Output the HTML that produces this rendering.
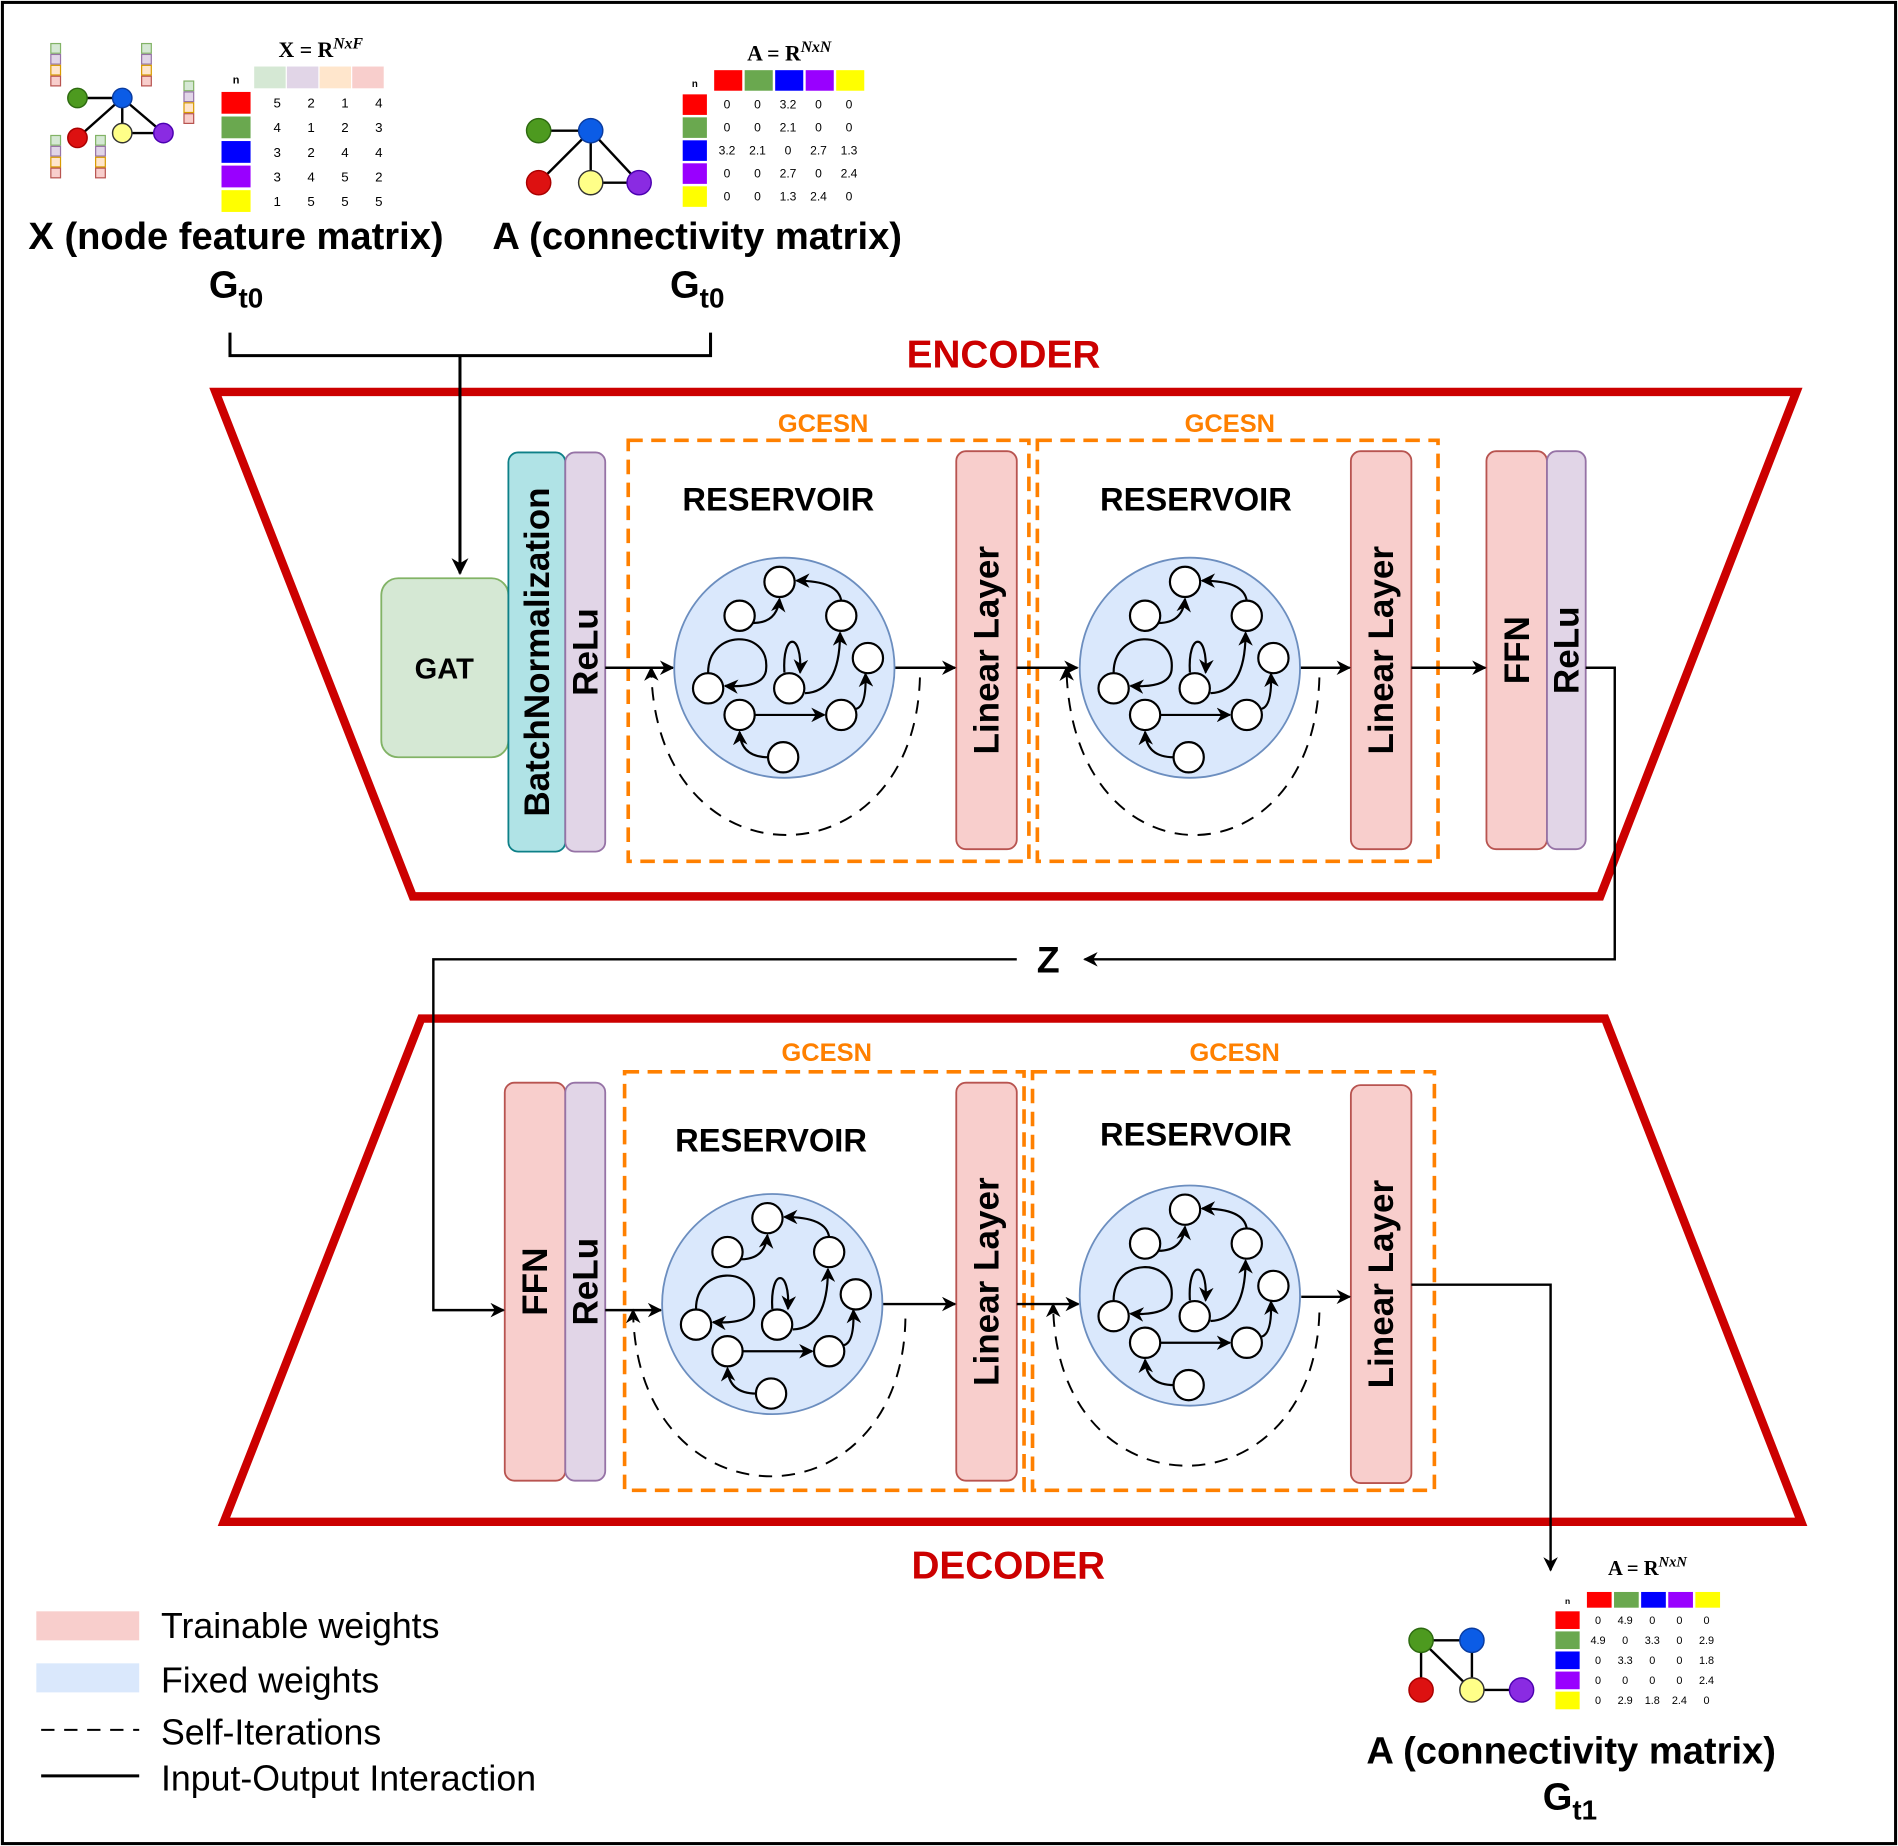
<!DOCTYPE html>
<html><head><meta charset="utf-8"><style>
html,body{margin:0;padding:0;background:#fff}
svg{display:block}
text{font-family:"Liberation Sans",Arial,sans-serif}
text.serif{font-family:"Liberation Serif",serif}
</style></head><body>
<svg id="fig" width="1898" height="1846" viewBox="0 0 1568 1526" preserveAspectRatio="none" xmlns="http://www.w3.org/2000/svg">
<defs>
<marker id="ar" viewBox="0 0 10 10" refX="9" refY="5" markerWidth="12" markerHeight="12" orient="auto" markerUnits="userSpaceOnUse"><path d="M0,0 L10,5 L0,10 L3,5 z" fill="#000"/></marker>
<marker id="arb" viewBox="0 0 10 10" refX="9" refY="5" markerWidth="14" markerHeight="14" orient="auto" markerUnits="userSpaceOnUse"><path d="M0,0 L10,5 L0,10 L3,5 z" fill="#000"/></marker>
</defs>
<rect x="2" y="2" width="1564" height="1522" fill="#fff" stroke="#000" stroke-width="2.5"/>

<polygon points="178,324 1484,324 1322,741 341,741" fill="none" stroke="#cc0000" stroke-width="7"/>
<polygon points="348,842 1326,842 1488,1258 185,1258" fill="none" stroke="#cc0000" stroke-width="7"/>
<text x="829" y="304" font-size="32" font-weight="bold" fill="#cc0000" text-anchor="middle">ENCODER</text>
<text x="833" y="1305" font-size="32" font-weight="bold" fill="#cc0000" text-anchor="middle">DECODER</text>

<g fill="none" stroke="#ff8000" stroke-width="3" stroke-dasharray="12,7">
<rect x="519" y="364" width="331" height="348"/><rect x="857" y="364" width="331" height="348"/>
<rect x="516" y="886" width="330" height="346"/><rect x="853" y="886" width="332" height="346"/>
</g>
<g font-size="21" font-weight="bold" fill="#ff8000" text-anchor="middle">
<text x="680" y="357">GCESN</text>
<text x="1016" y="357">GCESN</text>
<text x="683" y="877">GCESN</text>
<text x="1020" y="877">GCESN</text>
</g>
<g font-size="27" font-weight="bold" fill="#000" text-anchor="middle">
<text x="643" y="422">RESERVOIR</text>
<text x="988" y="422">RESERVOIR</text>
<text x="637" y="952">RESERVOIR</text>
<text x="988" y="947">RESERVOIR</text>
</g>

<rect x="315" y="478" width="105" height="148" rx="14" fill="#d5e8d4" stroke="#82b366" stroke-width="1.5"/>
<text x="367" y="561" font-size="24" font-weight="bold" text-anchor="middle">GAT</text>
<g id="blocks"></g>

<g fill="none" stroke="#000" stroke-width="2">
<path d="M190,275 V294 H587 V275" stroke-width="2.5"/>
<path d="M380,294 V474" stroke-width="2.5" marker-end="url(#arb)"/>
<path d="M500,552 H556" marker-end="url(#ar)"/>
<path d="M739,552 H789" marker-end="url(#ar)"/>
<path d="M840,552 H890" marker-end="url(#ar)"/>
<path d="M1074,552 H1115" marker-end="url(#ar)"/>
<path d="M1166,552 H1227" marker-end="url(#ar)"/>
<path d="M1310,552 H1334 V793 H896" marker-end="url(#ar)"/>
<path d="M840,793 H358 V1083 H416" marker-end="url(#ar)"/>
<path d="M500,1083 H546" marker-end="url(#ar)"/>
<path d="M729,1078 H789" marker-end="url(#ar)"/>
<path d="M840,1078 H891" marker-end="url(#ar)"/>
<path d="M1075,1072 H1115" marker-end="url(#ar)"/>
<path d="M1166,1062 H1281 V1298" marker-end="url(#ar)"/>
</g>
<g fill="none" stroke="#000" stroke-width="1.6" stroke-dasharray="11,8">
<path d="M760,560 C755,735 540,735 538,552" marker-end="url(#ar)"/>
<path d="M1090,560 C1085,735 885,735 881,552" marker-end="url(#ar)"/>
<path d="M748,1090 C745,1265 525,1265 523,1083" marker-end="url(#ar)"/>
<path d="M1090,1085 C1085,1255 872,1255 870,1078" marker-end="url(#ar)"/>
</g>
<text x="866" y="804" font-size="31" font-weight="bold" text-anchor="middle">Z</text>
<g id="reservoirs"></g>

<g id="topX"></g>
<g id="topA"></g>
<g id="botA"></g>
<g font-size="31.5" font-weight="bold" text-anchor="middle">
<text x="195" y="206">X (node feature matrix)</text>
<text x="576" y="206">A (connectivity matrix)</text>
<text x="195" y="246">G<tspan font-size="23" dy="8">t0</tspan></text>
<text x="576" y="246">G<tspan font-size="23" dy="8">t0</tspan></text>
<text x="1298" y="1458">A (connectivity matrix)</text>
<text x="1297" y="1496">G<tspan font-size="23" dy="8">t1</tspan></text>
</g>

<g font-size="29.5">
<rect x="30" y="1332" width="85" height="24" fill="#f8cecc"/>
<text x="133" y="1354">Trainable weights</text>
<rect x="30" y="1375" width="85" height="24" fill="#dae8fc"/>
<text x="133" y="1399">Fixed weights</text>
<line x1="34" y1="1430" x2="115" y2="1430" stroke="#000" stroke-width="1.6" stroke-dasharray="11,8"/>
<text x="133" y="1442">Self-Iterations</text>
<line x1="34" y1="1468" x2="115" y2="1468" stroke="#000" stroke-width="2.5"/>
<text x="133" y="1480">Input-Output Interaction</text>
</g>
</svg>
<script>
const NS='http://www.w3.org/2000/svg';
function mk(tag,attrs,parent){const e=document.createElementNS(NS,tag);for(const k in attrs)e.setAttribute(k,attrs[k]);parent.appendChild(e);return e;}

const xFeatureValues=[[5,2,1,4],[4,1,2,3],[3,2,4,4],[3,4,5,2],[1,5,5,5]];
const aInputValues=[["0","0","3.2","0","0"],["0","0","2.1","0","0"],["3.2","2.1","0","2.7","1.3"],["0","0","2.7","0","2.4"],["0","0","1.3","2.4","0"]];
const aOutputValues=[["0","4.9","0","0","0"],["4.9","0","3.3","0","2.9"],["0","3.3","0","0","1.8"],["0","0","0","0","2.4"],["0","2.9","1.8","2.4","0"]];
const nodeColors=["#ff0000","#6aa84f","#0000ff","#9900ff","#ffff00"];
const featColors=["#d5e8d4","#e1d5e7","#ffe6cc","#f8cecc"];

const blocks=[
 [420,374,47,330,"#b0e3e6","#0e8088","BatchNormalization","batchnorm-block"],
 [467,374,33,330,"#e1d5e7","#9673a6","ReLu","relu-block-enc"],
 [790,373,50,329,"#f8cecc","#b85450","Linear Layer","linear-layer-enc-1"],
 [1116,373,50,329,"#f8cecc","#b85450","Linear Layer","linear-layer-enc-2"],
 [1228,373,50,329,"#f8cecc","#b85450","FFN","ffn-block-enc"],
 [1278,373,32,329,"#e1d5e7","#9673a6","ReLu","relu-block-enc-2"],
 [417,895,50,329,"#f8cecc","#b85450","FFN","ffn-block-dec"],
 [467,895,33,329,"#e1d5e7","#9673a6","ReLu","relu-block-dec"],
 [790,895,50,329,"#f8cecc","#b85450","Linear Layer","linear-layer-dec-1"],
 [1116,897,50,329,"#f8cecc","#b85450","Linear Layer","linear-layer-dec-2"]];
const bg=document.getElementById('blocks');
blocks.forEach(b=>{
 const r=mk('rect',{x:b[0],y:b[1],width:b[2],height:b[3],rx:8,fill:b[4],stroke:b[5],'stroke-width':1.5},bg);
 
 
 const cx=b[0]+b[2]/2+10, cy=b[1]+b[3]/2;
 const t=mk('text',{x:cx,y:cy,'font-size':29,'font-weight':'bold','text-anchor':'middle',transform:`rotate(-90 ${cx} ${cy})`},bg);
 t.textContent=b[6];
 
 
});

const resNodes=[[-4,-71],[-37,-43],[47,-43],[69,-8],[-63,17],[4,17],[-37,39],[47,39],[-1,74]];
const resEdges=["M-26,-37 Q-6,-37 -4,-57","M47,-55 Q45,-72 10,-72","M-63,4 C-63,-32 -13,-32 -15,0 Q-15,17 -49,15","M0,4 C-2,-30 15,-30 13,4","M17,21 Q46,20 46,-29","M-24,39 L33,39","M59,34 Q68,32 67,5","M-13,74 Q-36,74 -37,53"];
const resCenters=[[648,552],[983,552],[638,1078],[983,1071]];
const rg=document.getElementById('reservoirs');
resCenters.forEach((c,i)=>{
 const g=mk('g',{transform:`translate(${c[0]},${c[1]})`},rg);
 
 
 mk('circle',{cx:0,cy:0,r:91,fill:'#dae8fc',stroke:'#6c8ebf','stroke-width':1.5},g);
 resEdges.forEach(d=>mk('path',{d:d,fill:'none',stroke:'#000','stroke-width':1.8,'marker-end':'url(#ar)'},g));
 resNodes.forEach(n=>mk('circle',{cx:n[0],cy:n[1],r:12.5,fill:'#fff',stroke:'#000','stroke-width':1.8},g));
});

function graph(parent,pts,r,edges){
 edges.forEach(e=>mk('line',{x1:pts[e[0]][0],y1:pts[e[0]][1],x2:pts[e[1]][0],y2:pts[e[1]][1],stroke:'#000','stroke-width':2},parent));
 const fc=["#4d9a1f","#0b5ce6","#dd1111","#ffff88","#8a2be2"],sc=["#2d6a10","#0a3ca0","#a00","#333","#4b00b0"];
 pts.forEach((p,i)=>mk('circle',{cx:p[0],cy:p[1],r:r,fill:fc[i],stroke:sc[i],'stroke-width':1.2},parent));
}
const tX=document.getElementById('topX');
graph(tX,[[64,81],[101,81],[64,114],[101,110],[135,110]],8,[[0,1],[1,2],[1,3],[1,4],[3,4]]);
[[46,36],[121,36],[156,67],[46,112],[83,112]].forEach(p=>featColors.forEach((c,j)=>mk('rect',{x:p[0]-4,y:p[1]+j*9,width:8,height:8,fill:c,stroke:['#82b366','#9673a6','#d79b00','#b85450'][j],'stroke-width':1},tX)));
mk('text',{x:265,y:47,'font-size':18,'font-weight':'bold','text-anchor':'middle',class:'serif'},tX).innerHTML='X = R<tspan font-size="13" dy="-7" font-style="italic">NxF</tspan>';
mk('text',{x:195,y:69,'font-size':9,'font-weight':'bold','text-anchor':'middle'},tX).textContent='n';
featColors.forEach((c,j)=>mk('rect',{x:210+j*27,y:55,width:26,height:18,fill:c},tX));
xFeatureValues.forEach((row,i)=>{
 mk('rect',{x:183,y:76+i*20.3,width:24,height:18,fill:nodeColors[i]},tX);
 row.forEach((v,j)=>{const t=mk('text',{x:229+j*28,y:89+i*20.3,'font-size':11,'text-anchor':'middle'},tX);t.textContent=v;});
});

function amat(parent,x0,y0,cw,ch,rowStep,fs,vals,lx,ly){
 mk('text',{x:lx,y:ly,'font-size':fs+8,'font-weight':'bold','text-anchor':'middle',class:'serif'},parent).innerHTML='A = R<tspan font-size="'+(fs+3)+'" dy="-7" font-style="italic">NxN</tspan>';
 mk('text',{x:x0-12,y:y0+ch-3,'font-size':fs-2,'font-weight':'bold','text-anchor':'middle'},parent).textContent='n';
 nodeColors.forEach((c,j)=>mk('rect',{x:x0+4+j*cw,y:y0,width:cw-2,height:ch,fill:c},parent));
 vals.forEach((row,i)=>{
  mk('rect',{x:x0-22,y:y0+ch+3+i*rowStep,width:20,height:rowStep-2,fill:nodeColors[i]},parent);
  row.forEach((v,j)=>{const t=mk('text',{x:x0+4+cw/2+j*cw-2,y:y0+ch+3+i*rowStep+rowStep*0.62,'font-size':fs,'text-anchor':'middle'},parent);t.textContent=v;});
 });
}
const tA=document.getElementById('topA');
graph(tA,[[445,108],[488,108],[445,151],[488,151],[528,151]],10,[[0,1],[1,2],[1,3],[1,4],[3,4]]);
amat(tA,586,58,25.2,17,19,10,aInputValues,652,50);
const bA=document.getElementById('botA');
graph(bA,[[1174,1356],[1216,1356],[1174,1397],[1216,1397],[1257,1397]],10,[[0,1],[0,2],[0,3],[1,3],[3,4]]);
amat(bA,1307,1316,22.4,13,16.6,9,aOutputValues,1361,1302);
</script>
</body></html>
